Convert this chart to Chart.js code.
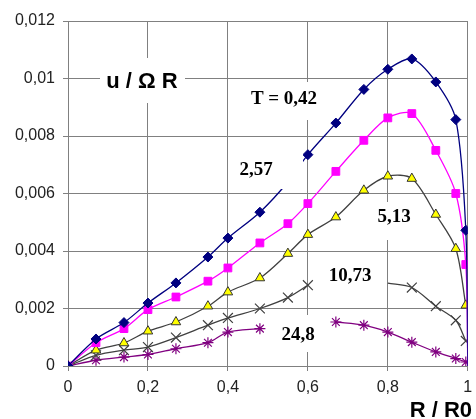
<!DOCTYPE html>
<html>
<head>
<meta charset="utf-8">
<script src="https://cdn.jsdelivr.net/npm/chart.js@4/dist/chart.umd.min.js"></script>
<style>
  html, body { margin: 0; padding: 0; background: #fff; }
  canvas { display: block; }
</style>
</head>
<body>
<canvas id="chart" width="476" height="419"></canvas>
<script>
// R / R0 positions of the points (shared by all curves)
var xValues = [0, 0.07, 0.14, 0.2, 0.27, 0.35, 0.4, 0.48, 0.55, 0.6, 0.67, 0.74, 0.8, 0.86, 0.92, 0.97, 0.995, 1];

// u / Omega R for each T
var t042 = [0, 0.00094, 0.00151, 0.00219, 0.00289, 0.00379, 0.00445, 0.00535, 0.0064, 0.00735, 0.00845, 0.00962, 0.01032, 0.01068, 0.00988, 0.00857, 0.00472, 0];
var t257 = [0, 0.00081, 0.0013, 0.00196, 0.0024, 0.00295, 0.00341, 0.00428, 0.00495, 0.00565, 0.00677, 0.00785, 0.00863, 0.00878, 0.0075, 0.006, 0.00353, 0];
var t513 = [0, 0.00055, 0.0008, 0.00121, 0.00153, 0.00208, 0.00257, 0.00306, 0.00391, 0.00457, 0.00518, 0.00611, 0.0066, 0.00652, 0.00527, 0.00408, 0.00211, null];
var t1073 = [0, 0.00037, 0.00055, 0.00066, 0.00099, 0.00142, 0.00167, 0.002, 0.00238, 0.00281, null, null, 0.00288, 0.00273, 0.00208, 0.00159, 0.00087, null];
var t248 = [0, 0.0002, 0.00031, 0.0004, 0.0006, 0.00081, 0.00118, 0.0013, null, null, 0.00153, 0.00142, 0.00118, 0.00083, 0.00049, 0.00026, 0.00014, null];

var xTickLabels = ['0', '0,2', '0,4', '0,6', '0,8', '1'];
var yTickLabels = ['0', '0,002', '0,004', '0,006', '0,008', '0,01', '0,012'];

var curveLabels = ['T = 0,42', '2,57', '5,13', '10,73', '24,8'];

function toPoints(ys) {
  return xValues.map(function(x, i) { return { x: x, y: ys[i] }; });
}

// hide the marker on points that only carry the line
function radiusFn(r, hidden) {
  return function(ctx) { return hidden.indexOf(ctx.dataIndex) >= 0 ? 0 : r; };
}

// white boxes with text on top of the plot
var textBoxes = {
  id: 'textBoxes',
  afterDatasetsDraw: function(chart) {
    var ctx = chart.ctx;
    var items = [
      { text: 'u / Ω R', x: 142, y: 88, box: [100, 58, 85, 45], font: 'bold 22px "Liberation Sans", Arial, sans-serif' },
      { text: curveLabels[0], x: 284, y: 104, box: [240, 82, 85, 38], font: 'bold 19px "Liberation Serif", "Times New Roman", serif' },
      { text: curveLabels[1], x: 256, y: 175, box: [228, 148, 75, 41], font: 'bold 19px "Liberation Serif", "Times New Roman", serif' },
      { text: curveLabels[2], x: 394, y: 222, box: [372, 202, 44, 38], font: 'bold 19px "Liberation Serif", "Times New Roman", serif' },
      { text: curveLabels[3], x: 350, y: 281, box: [322, 258, 56, 34], font: 'bold 19px "Liberation Serif", "Times New Roman", serif' },
      { text: curveLabels[4], x: 298, y: 340, box: [276, 315, 45, 37], font: 'bold 19px "Liberation Serif", "Times New Roman", serif' }
    ];
    ctx.save();
    items.forEach(function(it) {
      ctx.fillStyle = '#fff';
      ctx.fillRect(it.box[0], it.box[1], it.box[2], it.box[3]);
      ctx.fillStyle = '#000';
      ctx.font = it.font;
      ctx.textAlign = 'center';
      ctx.textBaseline = 'alphabetic';
      ctx.fillText(it.text, it.x, it.y);
    });
    // x axis title
    ctx.font = 'bold 22px "Liberation Sans", Arial, sans-serif';
    ctx.textAlign = 'right';
    ctx.fillText('R / R0', 472, 417);
    ctx.restore();
  }
};

var gridColor = '#808080';

new Chart(document.getElementById('chart'), {
  type: 'line',
  data: {
    datasets: [{
      label: curveLabels[0],
      data: toPoints(t042),
      borderColor: '#000080',
      backgroundColor: '#000080',
      borderWidth: 1.3,
      pointStyle: 'rectRot',
      pointRadius: radiusFn(5, [17]),
      pointBorderWidth: 1,
      tension: 0.3
    }, {
      label: curveLabels[1],
      data: toPoints(t257),
      borderColor: '#ff00ff',
      backgroundColor: '#ff00ff',
      borderWidth: 1.3,
      pointStyle: 'rect',
      pointRadius: radiusFn(5.5, [17]),
      pointBorderWidth: 1,
      tension: 0.3
    }, {
      label: curveLabels[2],
      data: toPoints(t513),
      borderColor: '#404040',
      backgroundColor: '#ffff00',
      pointBorderColor: '#333',
      borderWidth: 1.3,
      pointStyle: 'triangle',
      pointRadius: 5.5,
      pointBorderWidth: 1,
      tension: 0.3
    }, {
      label: curveLabels[3],
      data: toPoints(t1073),
      borderColor: '#404040',
      backgroundColor: '#404040',
      borderWidth: 1.3,
      pointStyle: 'crossRot',
      pointRadius: radiusFn(7, [12]),
      pointBorderWidth: 1.2,
      tension: 0.3
    }, {
      label: curveLabels[4],
      data: toPoints(t248),
      borderColor: '#800080',
      backgroundColor: '#800080',
      borderWidth: 1.3,
      pointStyle: 'star',
      pointRadius: 5.5,
      pointBorderWidth: 1.2,
      tension: 0.3
    }]
  },
  options: {
    responsive: false,
    animation: false,
    devicePixelRatio: 1,
    spanGaps: false,
    layout: { padding: { top: 21, right: 1, left: 0, bottom: 0 } },
    plugins: {
      legend: { display: false },
      tooltip: { enabled: false }
    },
    scales: {
      x: {
        type: 'linear',
        min: 0,
        max: 1,
        ticks: {
          stepSize: 0.2,
          padding: 7,
          color: '#222',
          font: { family: '"Liberation Sans", Arial, sans-serif', size: 16 },
          maxRotation: 0,
          callback: function(v, i) { return xTickLabels[i]; }
        },
        grid: { color: gridColor, tickColor: gridColor, tickLength: 5, lineWidth: 1 },
        border: { color: gridColor },
        afterFit: function(scale) {
          scale.height = 53;
          scale.paddingLeft = 0;
          scale.paddingRight = 0;
        }
      },
      y: {
        min: 0,
        max: 0.012,
        ticks: {
          stepSize: 0.002,
          padding: 8,
          color: '#222',
          font: { family: '"Liberation Sans", Arial, sans-serif', size: 16 },
          callback: function(v, i) { return yTickLabels[i]; }
        },
        grid: { color: gridColor, tickColor: gridColor, tickLength: 5, lineWidth: 1 },
        border: { color: gridColor },
        afterFit: function(scale) {
          scale.width = 68;
          scale.paddingTop = 0;
          scale.paddingBottom = 0;
        }
      }
    }
  },
  plugins: [textBoxes]
});
</script>
</body>
</html>
